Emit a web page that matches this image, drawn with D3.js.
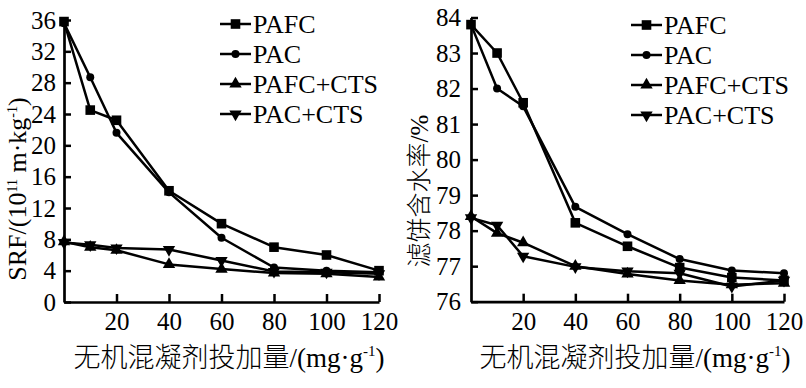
<!DOCTYPE html>
<html><head><meta charset="utf-8">
<script src="https://cdn.jsdelivr.net/npm/d3@7"></script>
<style>
html,body{margin:0;padding:0;background:#fff;}
svg{display:block;}
</style></head><body>
<svg id="c" width="806" height="388"></svg>
<script>
const doses = [0, 10, 20, 40, 60, 80, 100, 120];
const xTicks = [20, 40, 60, 80, 100, 120];
const seriesNames = ["PAFC", "PAC", "PAFC+CTS", "PAC+CTS"];
const markerTypes = ["square", "circle", "triUp", "triDown"];

// Left panel: SRF (10^11 m·kg^-1)
const srfPAFC = [35.8, 24.5, 23.2, 14.2, 10.0, 7.0, 6.0, 4.0];
const srfPAC = [35.6, 28.7, 21.6, 14.0, 8.2, 4.4, 4.0, 3.8];
const srfPAFC_CTS = [7.7, 7.0, 6.6, 4.8, 4.2, 3.7, 3.6, 3.2];
const srfPAC_CTS = [7.6, 7.3, 6.9, 6.7, 5.3, 3.9, 3.8, 3.6];
const srfTicks = [0, 4, 8, 12, 16, 20, 24, 28, 32, 36];

// Right panel: filter cake moisture (%)
const mcPAFC = [83.8, 83.0, 81.6, 78.22, 77.56, 76.96, 76.68, 76.6];
const mcPAC = [83.8, 82.0, 81.5, 78.67, 77.9, 77.2, 76.88, 76.8];
const mcPAFC_CTS = [78.4, 77.93, 77.66, 77.0, 76.78, 76.6, 76.48, 76.52];
const mcPAC_CTS = [78.36, 78.15, 77.28, 76.98, 76.86, 76.8, 76.43, 76.6];
const mcTicks = [76, 77, 78, 79, 80, 81, 82, 83, 84];

const SERIF = "Liberation Serif";
const CJK = "Noto Sans CJK SC";

const svg = d3.select("#c");

function marker(g, type, x, y) {
  if (type === "square") {
    g.append("rect").attr("x", x - 4.8).attr("y", y - 4.8).attr("width", 9.6).attr("height", 9.6).attr("fill", "#000");
  } else if (type === "circle") {
    g.append("circle").attr("cx", x).attr("cy", y).attr("r", 4).attr("fill", "#000");
  } else {
    const sym = d3.symbol().type(d3.symbolTriangle).size(66);
    g.append("path").attr("d", sym())
      .attr("transform", `translate(${x},${y}) rotate(${type === "triDown" ? 180 : 0})`)
      .attr("fill", "#000");
  }
}

function panel(opt) {
  const x = d3.scaleLinear().domain([0, 120]).range(opt.xr);
  const y = d3.scaleLinear().domain(opt.yd).range(opt.yr);
  const g = svg.append("g");

  opt.series.forEach((vals, i) => {
    const pts = doses.map((d, j) => [x(d), y(vals[j])]);
    g.append("path").attr("d", d3.line()(pts)).attr("fill", "none")
      .attr("stroke", "#000").attr("stroke-width", 2.5).attr("stroke-linejoin", "round");
    pts.forEach(p => marker(g, markerTypes[i], p[0], p[1]));
  });

  const xAxis = d3.axisBottom(x).tickValues(xTicks).tickSizeInner(-8).tickSizeOuter(0);
  const ga = g.append("g").attr("transform", `translate(0,${opt.yr[0]})`).call(xAxis);
  const yAxis = d3.axisLeft(y).tickValues(opt.yTicks).tickSizeInner(-7).tickSizeOuter(0).tickPadding(opt.ypad);
  const gb = g.append("g").attr("transform", `translate(${opt.xr[0]},0)`).call(yAxis);
  [ga, gb].forEach(a => {
    a.attr("font-family", null).attr("font-size", null);
    a.select(".domain").attr("stroke", "#000").attr("stroke-width", 2.7);
    a.selectAll(".tick line").attr("stroke", "#000").attr("stroke-width", 2.5);
    a.selectAll(".tick text").style("font-family", SERIF).style("font-size", "25px").attr("fill", "#000");
  });
  ga.selectAll(".tick text").attr("y", 28).attr("dy", 0);
  gb.selectAll(".tick text").attr("dy", "0.33em");

  seriesNames.forEach((n, i) => {
    const ly = opt.legY + i * 30;
    g.append("line").attr("x1", opt.legX).attr("x2", opt.legX + 31).attr("y1", ly).attr("y2", ly)
      .attr("stroke", "#000").attr("stroke-width", 2.5);
    marker(g, markerTypes[i], opt.legX + 15.5, ly);
    g.append("text").attr("x", opt.legX + 33).attr("y", ly + 9)
      .style("font-family", SERIF).style("font-size", "26px").text(n);
  });

  const xt = g.append("text").attr("x", opt.xtX).attr("y", 367)
    .attr("text-anchor", "middle").style("font-family", SERIF).style("font-size", "27px");
  xt.append("tspan").style("font-family", CJK).style("font-weight", 300).text("无机混凝剂投加量");
  xt.append("tspan").style("font-family", SERIF).text("/(mg·g");
  xt.append("tspan").style("font-family", SERIF).style("font-size", "15px").attr("dy", -11).text("-1");
  xt.append("tspan").style("font-family", SERIF).attr("dy", 11).text(")");
  return g;
}

panel({
  xr: [64, 379], yd: [0, 36], yr: [302, 20], yTicks: srfTicks, ypad: 8, xtX: 229,
  series: [srfPAFC, srfPAC, srfPAFC_CTS, srfPAC_CTS], legX: 220, legY: 24
});
panel({
  xr: [471, 784], yd: [76, 84], yr: [301.7, 17.5], yTicks: mcTicks, ypad: 10, xtX: 635,
  series: [mcPAFC, mcPAC, mcPAFC_CTS, mcPAC_CTS], legX: 631, legY: 25
});

const yl = svg.append("text").attr("transform", "translate(26,189) rotate(-90)")
  .attr("text-anchor", "middle").style("font-family", SERIF).style("font-size", "26px");
yl.append("tspan").text("SRF/(10");
yl.append("tspan").style("font-size", "14px").attr("dy", -9).text("11");
yl.append("tspan").attr("dy", 9).text(" m·kg");
yl.append("tspan").style("font-size", "14px").attr("dy", -9).text("-1");
yl.append("tspan").attr("dy", 9).text(")");

const yr = svg.append("text").attr("transform", "translate(428,191) rotate(-90)")
  .attr("text-anchor", "middle").style("font-family", SERIF).style("font-size", "25px");
yr.append("tspan").style("font-family", CJK).style("font-weight", 300).text("滤饼含水率");
yr.append("tspan").style("font-family", SERIF).text("/%");
</script>
</body></html>
